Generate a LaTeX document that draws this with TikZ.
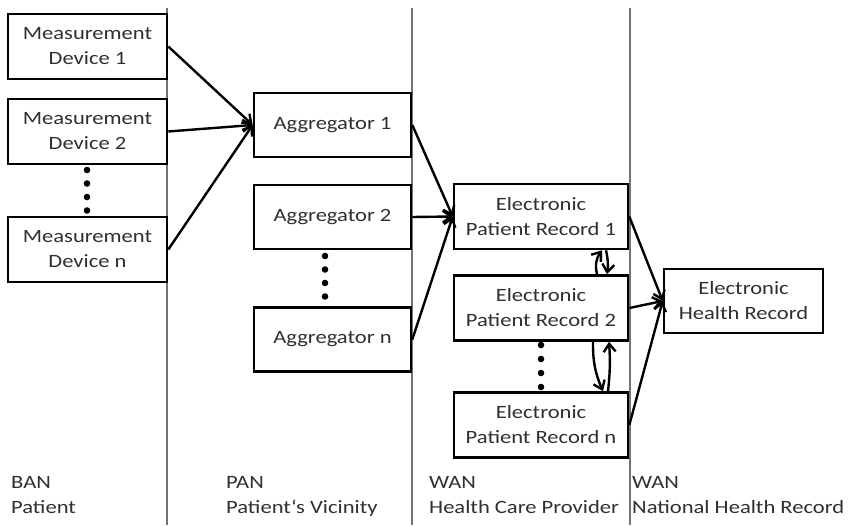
\documentclass[tikz,border=0pt]{standalone}
\usepackage{fontspec}
\setmainfont{Carlito}[FakeStretch=1.2]
\usetikzlibrary{arrows.meta}
\definecolor{txt}{HTML}{303030}
\tikzset{
  unit/.style={draw=black, line width=2.6pt, fill=white, align=center,
    text=txt, inner sep=0pt, font=\fontsize{18.8}{25}\selectfont},
  mdbox/.style={unit, minimum width=159pt, minimum height=65pt},
  aggbox/.style={unit, minimum width=157pt, minimum height=64pt},
  eprbox/.style={unit, minimum width=174pt, minimum height=65pt},
  ehrbox/.style={unit, minimum width=159pt, minimum height=64pt},
  flow/.style={line width=2.4pt, -{Straight Barb[length=8pt,width=12pt,line width=2.4pt]}},
  zone/.style={draw=black!55, line width=1.2pt},
  zonelabel/.style={anchor=base west, align=left, inner sep=0pt, text=txt,
    font=\fontsize{18.8}{25}\selectfont},
  ellip/.style={fill=black}
}
\begin{document}
\begin{tikzpicture}[x=1pt, y=-1pt]
\useasboundingbox (0,0) rectangle (850,525);

% zone separators
\draw[zone] (167,8) -- (167,525);
\draw[zone] (412,8) -- (412,525);
\draw[zone] (630,8) -- (630,525);

% measurement devices
\node[mdbox] (md1) at (87.5,46.5) {Measurement\\Device 1};
\node[mdbox] (md2) at (87.5,131.5) {Measurement\\Device 2};
\node[mdbox] (mdn) at (87.5,249.5) {Measurement\\Device n};

% aggregators
\node[aggbox] (agg1) at (332.5,125) {Aggregator 1};
\node[aggbox] (agg2) at (332.5,217) {Aggregator 2};
\node[aggbox] (aggn) at (332.5,339.5) {Aggregator n};

% patient records
\node[eprbox] (epr1) at (541,216.5) {Electronic\\Patient Record 1};
\node[eprbox] (epr2) at (541,308) {Electronic\\Patient Record 2};
\node[eprbox] (eprn) at (541,425) {Electronic\\Patient Record n};

% health record
\node[ehrbox] (ehr) at (743.5,301) {Electronic\\Health Record};

% ellipsis dots
\foreach \y in {170,183.5,197,210.5} \fill[ellip] (87,\y) circle (3.3pt);
\foreach \y in {256,269.5,283,296.5} \fill[ellip] (325,\y) circle (3.3pt);
\foreach \y in {345,359,373,387} \fill[ellip] (541,\y) circle (3.3pt);

% data flow
\draw[flow] (md1.east) -- (agg1.west);
\draw[flow] (md2.east) -- (agg1.west);
\draw[flow] (mdn.east) -- (agg1.west);
\draw[flow] (agg1.east) -- (epr1.west);
\draw[flow] (agg2.east) -- (epr1.west);
\draw[flow] (aggn.east) -- (epr1.west);
\draw[flow] (epr1.east) -- (ehr.west);
\draw[flow] (epr2.east) -- (ehr.west);
\draw[flow] (eprn.east) -- (ehr.west);

% exchange between patient records
\draw[flow] ([xshift=56pt]epr2.north) to[bend left=25] ([xshift=61pt]epr1.south);
\draw[flow] ([xshift=65pt]epr1.south) to[bend left=10] ([xshift=66pt]epr2.north);
\draw[flow] ([xshift=52pt]epr2.south) to[bend right=12] ([xshift=62pt]eprn.north);
\draw[flow] ([xshift=67pt]eprn.north) to[bend right=5] ([xshift=68pt]epr2.south);

% zone labels (anchored on the baseline of the second line)
\node[zonelabel] (zban) at (11,513) {BAN\\Patient};
\node[zonelabel] (zpan) at (226,513) {PAN\\Patient‘s Vicinity};
\node[zonelabel] (zwan) at (429,513) {WAN\\Health Care Provider};
\node[zonelabel] (znat) at (632,513) {WAN\\National Health Record};
\end{tikzpicture}
\end{document}
